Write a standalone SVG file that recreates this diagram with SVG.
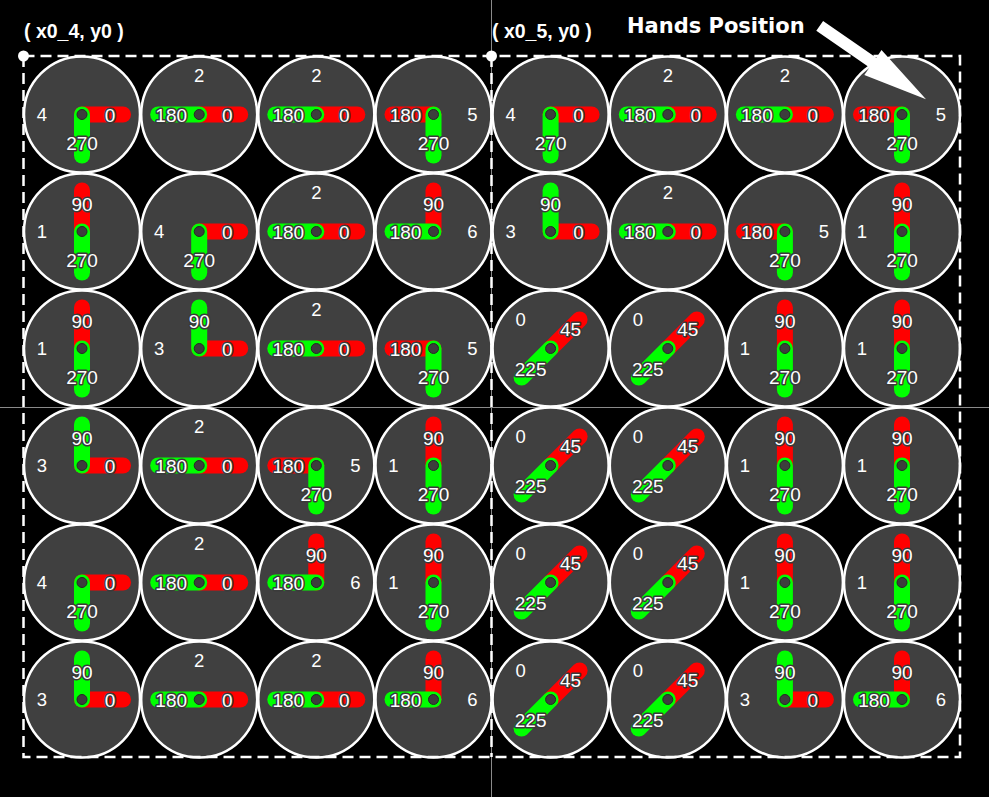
<svg xmlns="http://www.w3.org/2000/svg" width="989" height="797" viewBox="0 0 989 797">
<style>
.face{fill:#404040;stroke:#ffffff;stroke-width:2.5}
.r{stroke:#ff0000;stroke-width:16;stroke-linecap:round}
.g{stroke:#00ff00;stroke-width:16;stroke-linecap:round}
.hub{fill:#3d3d3d;stroke:#262626;stroke-width:1}
.hl{font-family:"Liberation Sans",Arial,sans-serif;font-size:19px;fill:#ffffff;stroke:#3a3a3a;stroke-width:3;paint-order:stroke;stroke-linejoin:round;text-anchor:middle}
.el{font-family:"Liberation Sans",Arial,sans-serif;font-size:18.5px;fill:#ffffff;text-anchor:middle}
.cap{font-family:"Liberation Sans",Arial,sans-serif;font-size:19.5px;font-weight:bold;fill:#ffffff}
.title{font-family:"DejaVu Sans",Verdana,sans-serif;font-size:21px;font-weight:bold;fill:#ffffff}
.dash{fill:none;stroke:#ffffff;stroke-width:2.5;stroke-dasharray:11 6}
.cross{stroke:#8a8a8a;stroke-width:1}
</style>
<rect x="0" y="0" width="989" height="797" fill="#000000"/>
<g id="guides">
<line class="cross" x1="491.5" y1="0" x2="491.5" y2="797"/>
<line class="cross" x1="0" y1="407.5" x2="989" y2="407.5"/>
</g>
<g id="clocks">
<!-- Row 0 -->
<g id="clock-r0c0" transform="translate(82,114.5)"><circle class="face" r="58"/><line class="r" x2="41"/><line class="g" y2="41"/><circle class="hub" r="5"/><text class="hl" x="28" y="7">0</text><text class="hl" y="35">270</text><text class="el" x="-40" y="6.5">4</text></g>
<g id="clock-r0c1" transform="translate(199.2,114.5)"><circle class="face" r="58"/><line class="r" x2="41"/><line class="g" x2="-41"/><circle class="hub" r="5"/><text class="hl" x="28" y="7">0</text><text class="hl" x="-28" y="7">180</text><text class="el" y="-33">2</text></g>
<g id="clock-r0c2" transform="translate(316.3,114.5)"><circle class="face" r="58"/><line class="r" x2="41"/><line class="g" x2="-41"/><circle class="hub" r="5"/><text class="hl" x="28" y="7">0</text><text class="hl" x="-28" y="7">180</text><text class="el" y="-33">2</text></g>
<g id="clock-r0c3" transform="translate(433.5,114.5)"><circle class="face" r="58"/><line class="r" x2="-41"/><line class="g" y2="41"/><circle class="hub" r="5"/><text class="hl" x="-28" y="7">180</text><text class="hl" y="35">270</text><text class="el" x="39" y="6.5">5</text></g>
<g id="clock-r0c4" transform="translate(550.6,114.5)"><circle class="face" r="58"/><line class="r" x2="41"/><line class="g" y2="41"/><circle class="hub" r="5"/><text class="hl" x="28" y="7">0</text><text class="hl" y="35">270</text><text class="el" x="-40" y="6.5">4</text></g>
<g id="clock-r0c5" transform="translate(667.8,114.5)"><circle class="face" r="58"/><line class="r" x2="41"/><line class="g" x2="-41"/><circle class="hub" r="5"/><text class="hl" x="28" y="7">0</text><text class="hl" x="-28" y="7">180</text><text class="el" y="-33">2</text></g>
<g id="clock-r0c6" transform="translate(784.9,114.5)"><circle class="face" r="58"/><line class="r" x2="41"/><line class="g" x2="-41"/><circle class="hub" r="5"/><text class="hl" x="28" y="7">0</text><text class="hl" x="-28" y="7">180</text><text class="el" y="-33">2</text></g>
<g id="clock-r0c7" transform="translate(902,114.5)"><circle class="face" r="58"/><line class="r" x2="-41"/><line class="g" y2="41"/><circle class="hub" r="5"/><text class="hl" x="-28" y="7">180</text><text class="hl" y="35">270</text><text class="el" x="39" y="6.5">5</text></g>
<!-- Row 1 -->
<g id="clock-r1c0" transform="translate(82,231.5)"><circle class="face" r="58"/><line class="r" y2="-41"/><line class="g" y2="41"/><circle class="hub" r="5"/><text class="hl" y="-21">90</text><text class="hl" y="35">270</text><text class="el" x="-40" y="6.5">1</text></g>
<g id="clock-r1c1" transform="translate(199.2,231.5)"><circle class="face" r="58"/><line class="r" x2="41"/><line class="g" y2="41"/><circle class="hub" r="5"/><text class="hl" x="28" y="7">0</text><text class="hl" y="35">270</text><text class="el" x="-40" y="6.5">4</text></g>
<g id="clock-r1c2" transform="translate(316.3,231.5)"><circle class="face" r="58"/><line class="r" x2="41"/><line class="g" x2="-41"/><circle class="hub" r="5"/><text class="hl" x="28" y="7">0</text><text class="hl" x="-28" y="7">180</text><text class="el" y="-33">2</text></g>
<g id="clock-r1c3" transform="translate(433.5,231.5)"><circle class="face" r="58"/><line class="r" y2="-41"/><line class="g" x2="-41"/><circle class="hub" r="5"/><text class="hl" y="-21">90</text><text class="hl" x="-28" y="7">180</text><text class="el" x="39" y="6.5">6</text></g>
<g id="clock-r1c4" transform="translate(550.6,231.5)"><circle class="face" r="58"/><line class="r" x2="41"/><line class="g" y2="-41"/><circle class="hub" r="5"/><text class="hl" y="-21">90</text><text class="hl" x="28" y="7">0</text><text class="el" x="-40" y="6.5">3</text></g>
<g id="clock-r1c5" transform="translate(667.8,231.5)"><circle class="face" r="58"/><line class="r" x2="41"/><line class="g" x2="-41"/><circle class="hub" r="5"/><text class="hl" x="28" y="7">0</text><text class="hl" x="-28" y="7">180</text><text class="el" y="-33">2</text></g>
<g id="clock-r1c6" transform="translate(784.9,231.5)"><circle class="face" r="58"/><line class="r" x2="-41"/><line class="g" y2="41"/><circle class="hub" r="5"/><text class="hl" x="-28" y="7">180</text><text class="hl" y="35">270</text><text class="el" x="39" y="6.5">5</text></g>
<g id="clock-r1c7" transform="translate(902,231.5)"><circle class="face" r="58"/><line class="r" y2="-41"/><line class="g" y2="41"/><circle class="hub" r="5"/><text class="hl" y="-21">90</text><text class="hl" y="35">270</text><text class="el" x="-40" y="6.5">1</text></g>
<!-- Row 2 -->
<g id="clock-r2c0" transform="translate(82,348.5)"><circle class="face" r="58"/><line class="r" y2="-41"/><line class="g" y2="41"/><circle class="hub" r="5"/><text class="hl" y="-21">90</text><text class="hl" y="35">270</text><text class="el" x="-40" y="6.5">1</text></g>
<g id="clock-r2c1" transform="translate(199.2,348.5)"><circle class="face" r="58"/><line class="r" x2="41"/><line class="g" y2="-41"/><circle class="hub" r="5"/><text class="hl" y="-21">90</text><text class="hl" x="28" y="7">0</text><text class="el" x="-40" y="6.5">3</text></g>
<g id="clock-r2c2" transform="translate(316.3,348.5)"><circle class="face" r="58"/><line class="r" x2="41"/><line class="g" x2="-41"/><circle class="hub" r="5"/><text class="hl" x="28" y="7">0</text><text class="hl" x="-28" y="7">180</text><text class="el" y="-33">2</text></g>
<g id="clock-r2c3" transform="translate(433.5,348.5)"><circle class="face" r="58"/><line class="r" x2="-41"/><line class="g" y2="41"/><circle class="hub" r="5"/><text class="hl" x="-28" y="7">180</text><text class="hl" y="35">270</text><text class="el" x="39" y="6.5">5</text></g>
<g id="clock-r2c4" transform="translate(550.6,348.5)"><circle class="face" r="58"/><line class="r" x2="29" y2="-29"/><line class="g" x2="-29" y2="29"/><circle class="hub" r="5"/><text class="hl" x="20" y="-13">45</text><text class="hl" x="-20" y="27">225</text><text class="el" x="-30" y="-22.5">0</text></g>
<g id="clock-r2c5" transform="translate(667.8,348.5)"><circle class="face" r="58"/><line class="r" x2="29" y2="-29"/><line class="g" x2="-29" y2="29"/><circle class="hub" r="5"/><text class="hl" x="20" y="-13">45</text><text class="hl" x="-20" y="27">225</text><text class="el" x="-30" y="-22.5">0</text></g>
<g id="clock-r2c6" transform="translate(784.9,348.5)"><circle class="face" r="58"/><line class="r" y2="-41"/><line class="g" y2="41"/><circle class="hub" r="5"/><text class="hl" y="-21">90</text><text class="hl" y="35">270</text><text class="el" x="-40" y="6.5">1</text></g>
<g id="clock-r2c7" transform="translate(902,348.5)"><circle class="face" r="58"/><line class="r" y2="-41"/><line class="g" y2="41"/><circle class="hub" r="5"/><text class="hl" y="-21">90</text><text class="hl" y="35">270</text><text class="el" x="-40" y="6.5">1</text></g>
<!-- Row 3 -->
<g id="clock-r3c0" transform="translate(82,465.5)"><circle class="face" r="58"/><line class="r" x2="41"/><line class="g" y2="-41"/><circle class="hub" r="5"/><text class="hl" y="-21">90</text><text class="hl" x="28" y="7">0</text><text class="el" x="-40" y="6.5">3</text></g>
<g id="clock-r3c1" transform="translate(199.2,465.5)"><circle class="face" r="58"/><line class="r" x2="41"/><line class="g" x2="-41"/><circle class="hub" r="5"/><text class="hl" x="28" y="7">0</text><text class="hl" x="-28" y="7">180</text><text class="el" y="-33">2</text></g>
<g id="clock-r3c2" transform="translate(316.3,465.5)"><circle class="face" r="58"/><line class="r" x2="-41"/><line class="g" y2="41"/><circle class="hub" r="5"/><text class="hl" x="-28" y="7">180</text><text class="hl" y="35">270</text><text class="el" x="39" y="6.5">5</text></g>
<g id="clock-r3c3" transform="translate(433.5,465.5)"><circle class="face" r="58"/><line class="r" y2="-41"/><line class="g" y2="41"/><circle class="hub" r="5"/><text class="hl" y="-21">90</text><text class="hl" y="35">270</text><text class="el" x="-40" y="6.5">1</text></g>
<g id="clock-r3c4" transform="translate(550.6,465.5)"><circle class="face" r="58"/><line class="r" x2="29" y2="-29"/><line class="g" x2="-29" y2="29"/><circle class="hub" r="5"/><text class="hl" x="20" y="-13">45</text><text class="hl" x="-20" y="27">225</text><text class="el" x="-30" y="-22.5">0</text></g>
<g id="clock-r3c5" transform="translate(667.8,465.5)"><circle class="face" r="58"/><line class="r" x2="29" y2="-29"/><line class="g" x2="-29" y2="29"/><circle class="hub" r="5"/><text class="hl" x="20" y="-13">45</text><text class="hl" x="-20" y="27">225</text><text class="el" x="-30" y="-22.5">0</text></g>
<g id="clock-r3c6" transform="translate(784.9,465.5)"><circle class="face" r="58"/><line class="r" y2="-41"/><line class="g" y2="41"/><circle class="hub" r="5"/><text class="hl" y="-21">90</text><text class="hl" y="35">270</text><text class="el" x="-40" y="6.5">1</text></g>
<g id="clock-r3c7" transform="translate(902,465.5)"><circle class="face" r="58"/><line class="r" y2="-41"/><line class="g" y2="41"/><circle class="hub" r="5"/><text class="hl" y="-21">90</text><text class="hl" y="35">270</text><text class="el" x="-40" y="6.5">1</text></g>
<!-- Row 4 -->
<g id="clock-r4c0" transform="translate(82,582.5)"><circle class="face" r="58"/><line class="r" x2="41"/><line class="g" y2="41"/><circle class="hub" r="5"/><text class="hl" x="28" y="7">0</text><text class="hl" y="35">270</text><text class="el" x="-40" y="6.5">4</text></g>
<g id="clock-r4c1" transform="translate(199.2,582.5)"><circle class="face" r="58"/><line class="r" x2="41"/><line class="g" x2="-41"/><circle class="hub" r="5"/><text class="hl" x="28" y="7">0</text><text class="hl" x="-28" y="7">180</text><text class="el" y="-33">2</text></g>
<g id="clock-r4c2" transform="translate(316.3,582.5)"><circle class="face" r="58"/><line class="r" y2="-41"/><line class="g" x2="-41"/><circle class="hub" r="5"/><text class="hl" y="-21">90</text><text class="hl" x="-28" y="7">180</text><text class="el" x="39" y="6.5">6</text></g>
<g id="clock-r4c3" transform="translate(433.5,582.5)"><circle class="face" r="58"/><line class="r" y2="-41"/><line class="g" y2="41"/><circle class="hub" r="5"/><text class="hl" y="-21">90</text><text class="hl" y="35">270</text><text class="el" x="-40" y="6.5">1</text></g>
<g id="clock-r4c4" transform="translate(550.6,582.5)"><circle class="face" r="58"/><line class="r" x2="29" y2="-29"/><line class="g" x2="-29" y2="29"/><circle class="hub" r="5"/><text class="hl" x="20" y="-13">45</text><text class="hl" x="-20" y="27">225</text><text class="el" x="-30" y="-22.5">0</text></g>
<g id="clock-r4c5" transform="translate(667.8,582.5)"><circle class="face" r="58"/><line class="r" x2="29" y2="-29"/><line class="g" x2="-29" y2="29"/><circle class="hub" r="5"/><text class="hl" x="20" y="-13">45</text><text class="hl" x="-20" y="27">225</text><text class="el" x="-30" y="-22.5">0</text></g>
<g id="clock-r4c6" transform="translate(784.9,582.5)"><circle class="face" r="58"/><line class="r" y2="-41"/><line class="g" y2="41"/><circle class="hub" r="5"/><text class="hl" y="-21">90</text><text class="hl" y="35">270</text><text class="el" x="-40" y="6.5">1</text></g>
<g id="clock-r4c7" transform="translate(902,582.5)"><circle class="face" r="58"/><line class="r" y2="-41"/><line class="g" y2="41"/><circle class="hub" r="5"/><text class="hl" y="-21">90</text><text class="hl" y="35">270</text><text class="el" x="-40" y="6.5">1</text></g>
<!-- Row 5 -->
<g id="clock-r5c0" transform="translate(82,699.5)"><circle class="face" r="58"/><line class="r" x2="41"/><line class="g" y2="-41"/><circle class="hub" r="5"/><text class="hl" y="-21">90</text><text class="hl" x="28" y="7">0</text><text class="el" x="-40" y="6.5">3</text></g>
<g id="clock-r5c1" transform="translate(199.2,699.5)"><circle class="face" r="58"/><line class="r" x2="41"/><line class="g" x2="-41"/><circle class="hub" r="5"/><text class="hl" x="28" y="7">0</text><text class="hl" x="-28" y="7">180</text><text class="el" y="-33">2</text></g>
<g id="clock-r5c2" transform="translate(316.3,699.5)"><circle class="face" r="58"/><line class="r" x2="41"/><line class="g" x2="-41"/><circle class="hub" r="5"/><text class="hl" x="28" y="7">0</text><text class="hl" x="-28" y="7">180</text><text class="el" y="-33">2</text></g>
<g id="clock-r5c3" transform="translate(433.5,699.5)"><circle class="face" r="58"/><line class="r" y2="-41"/><line class="g" x2="-41"/><circle class="hub" r="5"/><text class="hl" y="-21">90</text><text class="hl" x="-28" y="7">180</text><text class="el" x="39" y="6.5">6</text></g>
<g id="clock-r5c4" transform="translate(550.6,699.5)"><circle class="face" r="58"/><line class="r" x2="29" y2="-29"/><line class="g" x2="-29" y2="29"/><circle class="hub" r="5"/><text class="hl" x="20" y="-13">45</text><text class="hl" x="-20" y="27">225</text><text class="el" x="-30" y="-22.5">0</text></g>
<g id="clock-r5c5" transform="translate(667.8,699.5)"><circle class="face" r="58"/><line class="r" x2="29" y2="-29"/><line class="g" x2="-29" y2="29"/><circle class="hub" r="5"/><text class="hl" x="20" y="-13">45</text><text class="hl" x="-20" y="27">225</text><text class="el" x="-30" y="-22.5">0</text></g>
<g id="clock-r5c6" transform="translate(784.9,699.5)"><circle class="face" r="58"/><line class="r" x2="41"/><line class="g" y2="-41"/><circle class="hub" r="5"/><text class="hl" y="-21">90</text><text class="hl" x="28" y="7">0</text><text class="el" x="-40" y="6.5">3</text></g>
<g id="clock-r5c7" transform="translate(902,699.5)"><circle class="face" r="58"/><line class="r" y2="-41"/><line class="g" x2="-41"/><circle class="hub" r="5"/><text class="hl" y="-21">90</text><text class="hl" x="-28" y="7">180</text><text class="el" x="39" y="6.5">6</text></g>
</g>
<g id="frames">
<rect class="dash" x="23.5" y="56" width="936.5" height="701"/>
<line class="dash" x1="491.5" y1="56" x2="491.5" y2="757"/>
<circle cx="23.5" cy="56" r="5.5" fill="#ffffff"/>
<circle cx="491.5" cy="56" r="5.5" fill="#ffffff"/>
</g>
<g id="labels">
<text class="cap" x="24" y="38">( x0_4, y0 )</text>
<text class="cap" x="492" y="38">( x0_5, y0 )</text>
<text class="title" x="627" y="33">Hands Position</text>
</g>
<g id="connectors">
<polygon fill="#ffffff" points="823.1,20.9 876.3,57.7 881.5,50.1 926,99.3 864.3,75.1 869.5,67.5 816.3,30.7"/>
</g>
</svg>
